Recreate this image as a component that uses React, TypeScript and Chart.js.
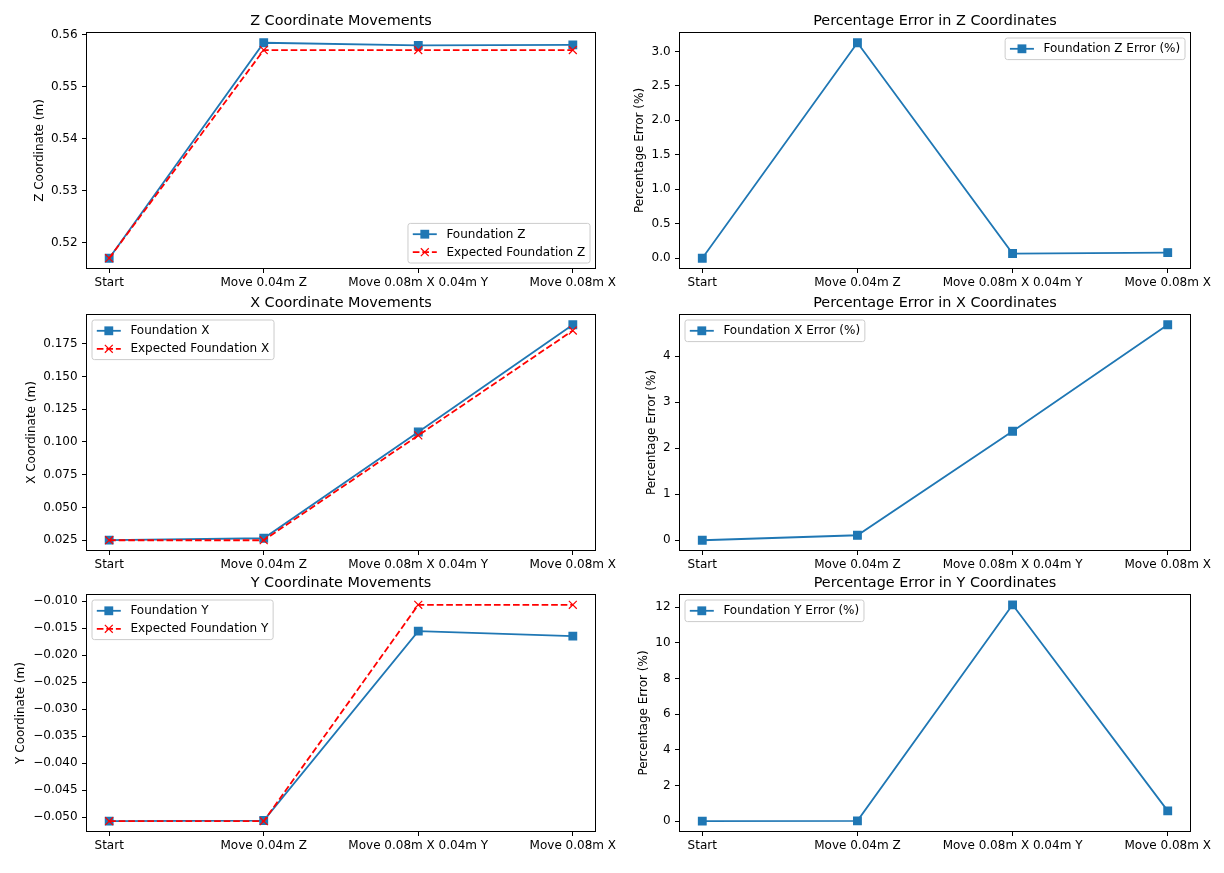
import React, { useEffect, useRef } from 'react';
import { Chart, registerables } from 'chart.js';

Chart.register(...registerables);
Chart.defaults.color = '#000';
Chart.defaults.font.family = "'DejaVu Sans'";
Chart.defaults.font.size = 12;

// ---------- data ----------
const categories = ['Start', 'Move 0.04m Z', 'Move 0.08m X 0.04m Y', 'Move 0.08m X'];

const foundationZ = [0.517, 0.5584, 0.5579, 0.558];
const expectedZ = [0.517, 0.557, 0.557, 0.557];
const errorZ = [0, 3.125, 0.068, 0.082];

const foundationX = [0.0251, 0.0265, 0.1076, 0.1894];
const expectedX = [0.025, 0.025, 0.105, 0.185];
const errorX = [0, 0.108, 2.37, 4.685];

const foundationY = [-0.05074, -0.05062, -0.01556, -0.01648];
const expectedY = [-0.05074, -0.05074, -0.01068, -0.01068];
const errorY = [0, 0.02, 12.13, 0.58];

const zTicks = [0.52, 0.53, 0.54, 0.55, 0.56];
const zErrTicks = [0, 0.5, 1, 1.5, 2, 2.5, 3];
const xTicks = [0.025, 0.05, 0.075, 0.1, 0.125, 0.15, 0.175];
const xErrTicks = [0, 1, 2, 3, 4];
const yTicks = [-0.05, -0.045, -0.04, -0.035, -0.03, -0.025, -0.02, -0.015, -0.01];
const yErrTicks = [0, 2, 4, 6, 8, 10, 12];

// ---------- styles ----------
const BLUE = '#1f77b4';
const RED = '#ff0000';
const LW = 1.8;
const DASH = [6.66, 2.88];
const SQ_R = 5.4;
const X_R = 5.6;
const FS = 12;
const TITLE_FS = 14.4;

type Kind = 'measured' | 'expected';
type SeriesSpec = { label: string; values: number[]; kind: Kind };
type PanelSpec = {
  title: string;
  ylabel: string;
  series: SeriesSpec[];
  ticks: number[];
  decimals: number;
  loc: 'lower right' | 'upper right' | 'upper left';
  col: number;
  area: { L: number; T: number; R: number; B: number };
  ylabelX: number;
};

const panels: PanelSpec[] = [
  {
    title: 'Z Coordinate Movements',
    ylabel: 'Z Coordinate (m)',
    series: [
      { label: 'Foundation Z', values: foundationZ, kind: 'measured' },
      { label: 'Expected Foundation Z', values: expectedZ, kind: 'expected' },
    ],
    ticks: zTicks,
    decimals: 2,
    loc: 'lower right',
    col: 0,
    area: { L: 86, T: 32, R: 596, B: 269 },
    ylabelX: 39.5,
  },
  {
    title: 'Percentage Error in Z Coordinates',
    ylabel: 'Percentage Error (%)',
    series: [{ label: 'Foundation Z Error (%)', values: errorZ, kind: 'measured' }],
    ticks: zErrTicks,
    decimals: 1,
    loc: 'upper right',
    col: 1,
    area: { L: 679, T: 32, R: 1191, B: 269 },
    ylabelX: 640,
  },
  {
    title: 'X Coordinate Movements',
    ylabel: 'X Coordinate (m)',
    series: [
      { label: 'Foundation X', values: foundationX, kind: 'measured' },
      { label: 'Expected Foundation X', values: expectedX, kind: 'expected' },
    ],
    ticks: xTicks,
    decimals: 3,
    loc: 'upper left',
    col: 0,
    area: { L: 86, T: 314, R: 596, B: 551 },
    ylabelX: 32,
  },
  {
    title: 'Percentage Error in X Coordinates',
    ylabel: 'Percentage Error (%)',
    series: [{ label: 'Foundation X Error (%)', values: errorX, kind: 'measured' }],
    ticks: xErrTicks,
    decimals: 0,
    loc: 'upper left',
    col: 1,
    area: { L: 679, T: 314, R: 1191, B: 551 },
    ylabelX: 652,
  },
  {
    title: 'Y Coordinate Movements',
    ylabel: 'Y Coordinate (m)',
    series: [
      { label: 'Foundation Y', values: foundationY, kind: 'measured' },
      { label: 'Expected Foundation Y', values: expectedY, kind: 'expected' },
    ],
    ticks: yTicks,
    decimals: 3,
    loc: 'upper left',
    col: 0,
    area: { L: 86, T: 594, R: 596, B: 832 },
    ylabelX: 21,
  },
  {
    title: 'Percentage Error in Y Coordinates',
    ylabel: 'Percentage Error (%)',
    series: [{ label: 'Foundation Y Error (%)', values: errorY, kind: 'measured' }],
    ticks: yErrTicks,
    decimals: 0,
    loc: 'upper left',
    col: 1,
    area: { L: 679, T: 594, R: 1191, B: 832 },
    ylabelX: 644,
  },
];

function fmt(v: number, d: number) {
  const s = Math.abs(v).toFixed(d);
  return v < -1e-12 ? '\u2212' + s : s;
}

function drawSquare(ctx: CanvasRenderingContext2D, x: number, y: number) {
  const h = Math.SQRT1_2 * SQ_R + 0.6;
  ctx.fillStyle = BLUE;
  ctx.fillRect(x - h, y - h, 2 * h, 2 * h);
}
function drawX(ctx: CanvasRenderingContext2D, x: number, y: number) {
  const h = Math.SQRT1_2 * X_R;
  ctx.strokeStyle = RED;
  ctx.lineWidth = 1.2;
  ctx.setLineDash([]);
  ctx.beginPath();
  ctx.moveTo(x - h, y - h);
  ctx.lineTo(x + h, y + h);
  ctx.moveTo(x - h, y + h);
  ctx.lineTo(x + h, y - h);
  ctx.stroke();
}

const mplPlugin = {
  id: 'mpl',
  afterDraw(chart: any, _args: any, opts: any) {
    const { ctx, chartArea: a } = chart;
    ctx.save();
    // frame
    ctx.strokeStyle = '#000';
    ctx.lineWidth = 1;
    ctx.setLineDash([]);
    const l = Math.round(a.left) + 0.5;
    const t = Math.round(a.top) + 0.5;
    const r = Math.round(a.right) - 0.5;
    const b = Math.round(a.bottom) - 0.5;
    ctx.strokeRect(l, t, r - l, b - t);

    // title
    ctx.fillStyle = '#000';
    ctx.font = `${TITLE_FS}px 'DejaVu Sans'`;
    ctx.textAlign = 'center';
    ctx.textBaseline = 'alphabetic';
    ctx.fillText(opts.title, (a.left + a.right) / 2, a.top - 7.2);

    // legend
    const fs = FS;
    const pad = 0.4 * fs;
    const rowH = 1.0 * fs;
    const spacing = 0.5 * fs;
    const handleLen = 2 * fs;
    const textPad = 0.8 * fs;
    const axPad = 0.5 * fs;
    ctx.font = `${fs}px 'DejaVu Sans'`;
    const items: SeriesSpec[] = opts.items;
    let maxW = 0;
    items.forEach((it) => (maxW = Math.max(maxW, ctx.measureText(it.label).width)));
    const w = pad * 2 + handleLen + textPad + maxW;
    const h = pad * 2 + items.length * rowH + (items.length - 1) * spacing;
    let bx = a.left + axPad;
    let by = a.top + axPad;
    if (opts.loc.includes('right')) bx = a.right - axPad - w;
    if (opts.loc.includes('lower')) by = a.bottom - axPad - h;
    ctx.beginPath();
    ctx.roundRect(bx, by, w, h, 0.2 * fs);
    ctx.fillStyle = 'rgba(255,255,255,0.8)';
    ctx.fill();
    ctx.strokeStyle = '#cccccc';
    ctx.lineWidth = 1;
    ctx.stroke();
    items.forEach((it, i) => {
      const cy = by + pad + i * (rowH + spacing) + rowH / 2;
      const hx = bx + pad;
      ctx.beginPath();
      ctx.strokeStyle = it.kind === 'measured' ? BLUE : RED;
      ctx.lineWidth = LW;
      ctx.setLineDash(it.kind === 'measured' ? [] : DASH);
      ctx.moveTo(hx, cy);
      ctx.lineTo(hx + handleLen, cy);
      ctx.stroke();
      ctx.setLineDash([]);
      if (it.kind === 'measured') drawSquare(ctx, hx + handleLen / 2, cy);
      else drawX(ctx, hx + handleLen / 2, cy);
      ctx.fillStyle = '#000';
      ctx.textAlign = 'left';
      ctx.textBaseline = 'middle';
      ctx.fillText(it.label, hx + handleLen + textPad, cy + 0.5);
    });
    ctx.restore();
  },
};

function Panel({ spec }: { spec: PanelSpec }) {
  const ref = useRef<HTMLCanvasElement>(null);
  const canvasLeft = spec.col === 0 ? 0 : 606;
  const canvasWidth = spec.col === 0 ? 640 : 1224 - 606;
  const canvasTop = spec.area.T - 32;
  const canvasHeight = spec.area.B - spec.area.T + 72;

  useEffect(() => {
    if (!ref.current) return;
    const { L, R } = spec.area;
    const yLabelHalf = FS * 1.2 * 0.5;
    const scaleLeft = spec.ylabelX - yLabelHalf;
    const yWidth = L - scaleLeft;
    const padLeft = scaleLeft - canvasLeft;
    const padRight = canvasLeft + canvasWidth - R;

    let mn = Infinity;
    let mx = -Infinity;
    spec.series.forEach((s) =>
      s.values.forEach((v) => {
        mn = Math.min(mn, v);
        mx = Math.max(mx, v);
      })
    );
    const m = (mx - mn) * 0.05;

    const datasets = spec.series.map((s) => {
      const data = s.values.map((v, i) => ({ x: i, y: v }));
      if (s.kind === 'measured') {
        return {
          label: s.label,
          data,
          order: 1,
          borderColor: BLUE,
          backgroundColor: BLUE,
          borderWidth: LW,
          pointStyle: 'rect',
          pointRadius: SQ_R,
          pointBorderWidth: 1.2,
          pointBackgroundColor: BLUE,
          pointBorderColor: BLUE,
          tension: 0,
          fill: false,
        };
      }
      return {
        label: s.label,
        data,
        order: 0,
        borderColor: RED,
        backgroundColor: RED,
        borderWidth: LW,
        borderDash: DASH,
        pointStyle: 'crossRot',
        pointRadius: X_R,
        pointBorderWidth: 1.2,
        pointBorderColor: RED,
        pointBackgroundColor: RED,
        tension: 0,
        fill: false,
      };
    });

    const chart = new Chart(ref.current, {
      type: 'line',
      data: { datasets: datasets as any },
      plugins: [mplPlugin as any],
      options: {
        animation: false,
        responsive: true,
        maintainAspectRatio: false,
        events: [],
        layout: { padding: { left: padLeft, right: padRight, top: 32, bottom: 10 } },
        plugins: {
          legend: { display: false },
          tooltip: { enabled: false },
          mpl: { title: spec.title, items: spec.series, loc: spec.loc },
        } as any,
        scales: {
          x: {
            type: 'linear',
            min: -0.15,
            max: categories.length - 1 + 0.15,
            afterBuildTicks: (scale: any) => {
              scale.ticks = categories.map((_, i) => ({ value: i }));
            },
            afterFit: (scale: any) => {
              scale.height = 30;
            },
            grid: {
              drawOnChartArea: false,
              drawTicks: true,
              tickLength: 4,
              color: '#000',
              lineWidth: 1,
            },
            border: { display: false },
            ticks: {
              autoSkip: false,
              maxRotation: 0,
              minRotation: 0,
              padding: 2.5,
              color: '#000',
              font: { size: FS, lineHeight: 1.2 },
              callback: (_v: any, i: number) => categories[i],
            },
          },
          y: {
            type: 'linear',
            min: mn - m,
            max: mx + m,
            afterBuildTicks: (scale: any) => {
              scale.ticks = spec.ticks.map((v) => ({ value: v }));
            },
            afterFit: (scale: any) => {
              scale.width = yWidth;
            },
            grid: {
              drawOnChartArea: false,
              drawTicks: true,
              tickLength: 4,
              color: '#000',
              lineWidth: 1,
            },
            border: { display: false },
            ticks: {
              autoSkip: false,
              padding: 4.4,
              color: '#000',
              font: { size: FS, lineHeight: 1.2 },
              callback: (v: any) => fmt(Number(v), spec.decimals),
            },
            title: {
              display: true,
              text: spec.ylabel,
              color: '#000',
              padding: { top: 0, bottom: 0 },
              font: { size: FS, lineHeight: 1.2 },
            },
          },
        },
      } as any,
    });
    return () => chart.destroy();
  }, []);

  return (
    <div
      style={{
        position: 'absolute',
        left: canvasLeft,
        top: canvasTop,
        width: canvasWidth,
        height: canvasHeight,
      }}
    >
      <canvas ref={ref} />
    </div>
  );
}

export default function App() {
  return (
    <div
      style={{
        position: 'absolute',
        left: 0,
        top: 0,
        width: 1224,
        height: 873,
        background: '#fff',
        overflow: 'hidden',
      }}
    >
      {panels.map((p, i) => (
        <Panel key={i} spec={p} />
      ))}
    </div>
  );
}
